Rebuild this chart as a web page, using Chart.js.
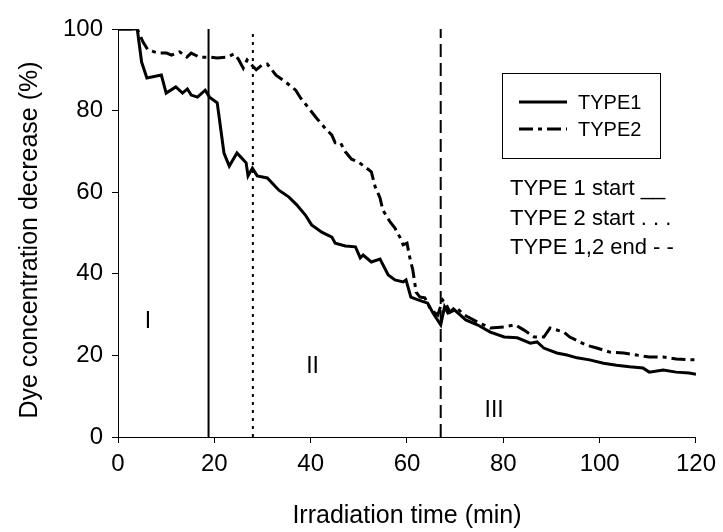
<!DOCTYPE html>
<html>
<head>
<meta charset="utf-8">
<script src="https://cdn.jsdelivr.net/npm/chart.js@4.4.0/dist/chart.umd.min.js"></script>
<style>
  html, body { margin: 0; padding: 0; background: #fff; }
  #wrap { width: 723px; height: 532px; }
</style>
</head>
<body>
<div id="wrap"><canvas id="grafico" width="723" height="532"></canvas></div>
<script>
// ==========================
// Dados
// ==========================
const tempo1 = [0, 4, 4.9, 6, 9, 10, 12, 13.4, 14.4, 15.2, 16.5, 18.1, 19, 20.6, 22, 23.1, 24.7, 25.5, 26.6, 27, 27.9, 28.9,
  31, 33.4, 35.5, 37.1, 38.9, 40.2, 42.3, 44.4, 45.1, 47.2, 49.3, 50.3, 50.9, 52.6, 54.4, 56.1, 57.5, 59.2, 59.8,
  60.8, 62.3, 64.3, 65.4, 67, 67.8, 68.5, 69.9, 72.2, 74.6, 77.3, 80.2, 82.9, 85.6, 87, 88.4, 91.1, 93.2, 95.3,
  97.9, 100.8, 103.5, 106.2, 109, 110.3, 113.2, 115.9, 118.6, 120];
const tipo1 = [100, 100, 91.9, 88.0, 88.7, 84.3, 85.8, 84.3, 85.3, 83.8, 83.3, 85.0, 83.3, 81.9, 69.6, 66.4, 69.6, 68.6, 67.2, 64.0, 65.9, 64.0,
  63.5, 60.5, 58.8, 56.9, 54.4, 52.0, 50.2, 49.0, 47.5, 46.8, 46.6, 43.9, 44.6, 42.9, 43.6, 39.7, 38.5, 38.0, 38.5,
  34.3, 33.6, 32.8, 30.4, 27.5, 31.9, 30.4, 31.1, 28.7, 27.5, 25.7, 24.5, 24.3, 23.0, 23.3, 21.8, 20.6, 20.1, 19.4,
  18.9, 18.1, 17.6, 17.2, 16.9, 15.9, 16.4, 15.9, 15.7, 15.4];

const tempo2 = [0, 4, 5.2, 6.2, 8.3, 10.1, 11.1, 12.8, 14.3, 15.2, 16.9, 19, 20.6, 22.7, 24.1, 25, 26, 26.8, 28.7, 29.9, 31,
  32.8, 34.8, 36.9, 37.9, 39.6, 41.2, 43, 44.4, 45.1, 46.2, 47.2, 48.5, 49.9, 51.3, 52.6, 53.4, 54.4, 55, 56.5,
  57.5, 58.6, 59.2, 60, 60.6, 61.2, 61.9, 62.7, 63.7, 65, 66.4, 67.4, 68, 68.9, 70.1, 71.9, 74.6, 77.3, 80.2,
  82.5, 84.3, 86.4, 88.4, 89.7, 92.6, 93.8, 97.3, 99.4, 102.1, 105, 107.6, 110.3, 113.2, 115.9, 120];
const tipo2 = [100, 100, 96.8, 94.9, 94.1, 94.1, 93.6, 94.4, 93.1, 94.1, 93.1, 93.1, 92.9, 93.1, 93.9, 92.6, 90.4, 92.4, 90.0, 91.2, 91.4,
  88.7, 87.0, 85.0, 83.1, 80.6, 78.2, 75.7, 74.0, 72.1, 72.1, 69.9, 68.1, 67.4, 66.2, 65.0, 61.3, 58.6, 55.6, 52.7,
  51.2, 48.8, 47.1, 47.5, 43.9, 41.0, 35.5, 34.3, 34.1, 31.1, 29.9, 33.6, 32.8, 30.6, 31.9, 29.9, 28.2, 26.7, 27.0,
  27.5, 26.2, 24.5, 24.5, 26.7, 25.7, 24.5, 22.5, 21.8, 20.8, 20.6, 20.1, 19.6, 19.6, 19.1, 18.9];

// linhas verticais: início TYPE 1, início TYPE 2, fim TYPE 1,2
const marcos = [18.8, 28, 67];
const marcoFaixa = [0, 100];

const rotulos = ['TYPE1', 'TYPE2'];
const notas = ['TYPE 1 start __', 'TYPE 2 start . . .', 'TYPE 1,2 end - -'];
const regioes = ['I', 'II', 'III'];
const regioesPos = [[6.2, 28.2], [40.4, 17.2], [78.1, 6.4]];

const ticksX = [0, 20, 40, 60, 80, 100, 120];
const ticksY = [0, 20, 40, 60, 80, 100];

const tituloX = 'Irradiation time (min)';
const tituloY = 'Dye concentration decrease (%)';

// ==========================
// Utilidades
// ==========================
const FONTE = "'Liberation Sans', Arial, sans-serif";
const pontos = (xs, ys) => xs.map((x, i) => ({ x, y: ys[i] }));
const vertical = (x) => marcoFaixa.map(y => ({ x, y }));

const TRACO2 = [14, 5, 4, 5];

// ==========================
// Plugin: legenda e textos
// ==========================
const textosPlugin = {
  id: 'textos',
  afterDraw(chart) {
    const c = chart.ctx;
    const sx = chart.scales.x, sy = chart.scales.y;
    c.save();
    c.fillStyle = '#000';
    c.strokeStyle = '#000';

    // título do eixo Y (um pouco abaixo do centro, como no original)
    c.save();
    c.font = '25px ' + FONTE;
    c.textAlign = 'center';
    c.textBaseline = 'middle';
    c.translate(30, 240);
    c.rotate(-Math.PI / 2);
    c.fillText(tituloY, 0, 0);
    c.restore();

    // caixa da legenda
    c.lineWidth = 1;
    c.strokeRect(502.5, 73.5, 158, 85);
    c.font = '20px ' + FONTE;
    c.textBaseline = 'middle';
    c.textAlign = 'left';
    const linhasY = [102, 129];
    rotulos.forEach((r, i) => {
      const ds = chart.data.datasets[i];
      c.lineWidth = ds.borderWidth;
      c.setLineDash(ds.borderDash || []);
      c.beginPath();
      c.moveTo(519, linhasY[i]);
      c.lineTo(567, linhasY[i]);
      c.stroke();
      c.setLineDash([]);
      c.fillText(r, 578, linhasY[i] + 1);
    });

    // notas à direita
    c.font = '22px ' + FONTE;
    notas.forEach((n, i) => c.fillText(n, 510, 189 + i * 29.5));

    // regiões I, II, III
    c.font = '23px ' + FONTE;
    c.textAlign = 'center';
    regioes.forEach((r, i) => {
      const [t, v] = regioesPos[i];
      c.fillText(r, sx.getPixelForValue(t), sy.getPixelForValue(v));
    });
    c.restore();
  }
};

// ==========================
// Gráfico
// ==========================
const ctx = document.getElementById('grafico').getContext('2d');
const grafico = new Chart(ctx, {
  type: 'line',
  data: {
    datasets: [
      { label: rotulos[0], data: pontos(tempo1, tipo1), borderColor: '#000', borderWidth: 3, pointRadius: 0, tension: 0 },
      { label: rotulos[1], data: pontos(tempo2, tipo2), borderColor: '#000', borderWidth: 3, borderDash: TRACO2, pointRadius: 0, tension: 0 },
      { label: 'start1', data: vertical(marcos[0]), borderColor: '#000', borderWidth: 2, pointRadius: 0 },
      { label: 'start2', data: vertical(marcos[1]), borderColor: '#000', borderWidth: 2, borderDash: [3, 5], pointRadius: 0 },
      { label: 'end', data: vertical(marcos[2]), borderColor: '#000', borderWidth: 2, borderDash: [13, 6], pointRadius: 0 }
    ]
  },
  options: {
    responsive: false,
    animation: false,
    devicePixelRatio: 1,
    layout: { padding: { top: 29, right: 23, left: 0, bottom: 0 } },
    plugins: { legend: { display: false }, tooltip: { enabled: false } },
    scales: {
      x: {
        type: 'linear', min: 0, max: 120,
        afterBuildTicks: s => { s.ticks = ticksX.map(v => ({ value: v })); },
        afterFit: s => { s.height = 95; },
        grid: { display: true, drawOnChartArea: false, drawTicks: true, tickLength: 6, color: '#000', lineWidth: 1 },
        border: { display: true, color: '#000', width: 1 },
        ticks: { color: '#000', font: { family: FONTE, size: 24 }, padding: 7, maxRotation: 0 },
        title: { display: true, text: tituloX, color: '#000', font: { family: FONTE, size: 25 }, padding: { top: 0, bottom: 1 } }
      },
      y: {
        type: 'linear', min: 0, max: 100,
        afterBuildTicks: s => { s.ticks = ticksY.map(v => ({ value: v })); },
        afterFit: s => { s.width = 118; },
        grid: { display: true, drawOnChartArea: false, drawTicks: true, tickLength: 6, color: '#000', lineWidth: 1 },
        border: { display: true, color: '#000', width: 1 },
        ticks: { color: '#000', font: { family: FONTE, size: 24 }, padding: 9 },
        title: { display: false }
      }
    }
  },
  plugins: [textosPlugin]
});
</script>
</body>
</html>
